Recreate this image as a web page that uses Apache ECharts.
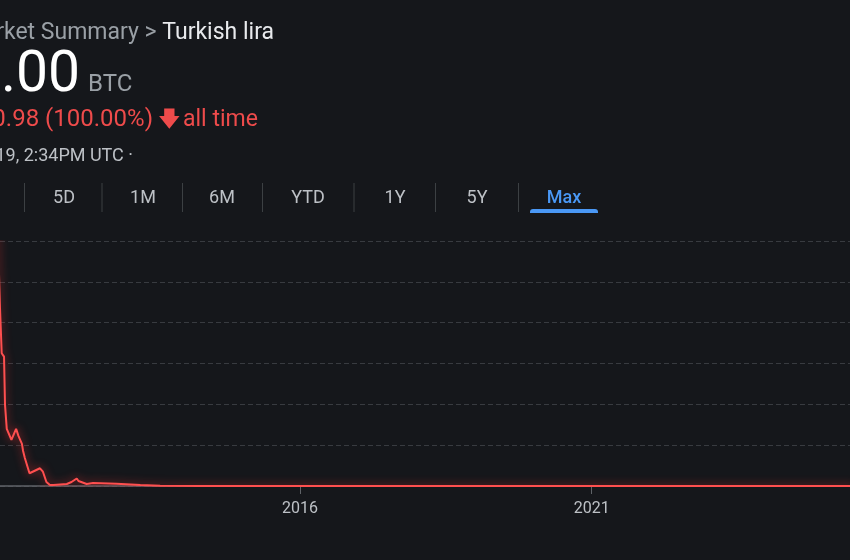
<!DOCTYPE html>
<html><head><meta charset="utf-8">
<script src="https://cdn.jsdelivr.net/npm/echarts@6/dist/echarts.min.js"></script>
<style>html,body{margin:0;padding:0;background:#15171b;}#c{width:850px;height:560px;}</style>
</head><body><div id="c"></div>
<script>
// Time (decimal year) and value (BTC per TRY)
const years = [2010.55, 2010.65, 2010.75, 2010.82, 2010.854, 2010.883, 2010.923, 2010.94, 2010.97, 2011.05, 2011.13, 2011.17, 2011.23, 2011.25, 2011.28, 2011.31, 2011.36, 2011.54, 2011.59, 2011.65, 2011.71, 2011.77, 2012.0, 2012.08, 2012.17, 2012.2, 2012.34, 2012.45, 2012.85, 2013.26, 2013.6, 2014.28, 2016.0, 2018.0, 2021.0, 2023.0, 2025.5];
const values = [9.98, 7.2, 4.6, 3.0, 2.178, 1.626, 1.585, 0.993, 0.699, 0.564, 0.699, 0.613, 0.515, 0.429, 0.343, 0.331, 0.156, 0.217, 0.175, 0.049, 0.012, 0.012, 0.025, 0.049, 0.092, 0.061, 0.025, 0.037, 0.028, 0.012, 0.004, 0.001, 0.0005, 0.0002, 0.0001, 0.00005, 0.00002];
const xTickYears = [2016, 2021];
const tabs = ['1D', '5D', '1M', '6M', 'YTD', '1Y', '5Y', 'Max'];
const crumbs = ['Market Summary', 'Turkish lira'];
const priceText = '0.00';
const unitText = 'BTC';
const changeText = '-0.98 (100.00%)';
const periodText = 'all time';
const dateText = '19, 2:34PM UTC ·';

const chart = echarts.init(document.getElementById('c'), null, {renderer: 'canvas'});
const tabCenters = [-12, 64, 143, 222, 308, 395, 477, 564];
const sepX = [24.5, 102, 182.5, 262.5, 354, 435.5, 518.5];
const graphics = [];
graphics.push({type: 'text', x: 274, y: 33, style: {
  text: '{g|' + crumbs[0] + ' > }{w|' + crumbs[1] + '}',
  rich: {g: {fill: '#9aa0a6', font: '23px Roboto'}, w: {fill: '#e8eaed', font: '23px Roboto'}},
  align: 'right', verticalAlign: 'middle'}});
graphics.push({type: 'text', x: 80, y: 77, style: {text: priceText, fill: '#ffffff', font: '57px Roboto', align: 'right', verticalAlign: 'middle'}});
graphics.push({type: 'text', x: 88, y: 85, style: {text: unitText, fill: '#9aa0a6', font: '24px Roboto', verticalAlign: 'middle'}});
graphics.push({type: 'text', x: 153, y: 120, style: {text: changeText, fill: '#ee4b4b', font: '24px Roboto', align: 'right', verticalAlign: 'middle'}});
graphics.push({type: 'text', x: 158, y: 120, style: {text: '\u{1F847}', fill: '#ee4b4b', font: '22px "DejaVu Sans"', verticalAlign: 'middle'}});
graphics.push({type: 'text', x: 183, y: 120, style: {text: periodText, fill: '#ee4b4b', font: '23px Roboto', verticalAlign: 'middle'}});
graphics.push({type: 'text', x: 133, y: 156, style: {text: dateText, fill: '#bdc1c6', font: '18px Roboto', align: 'right', verticalAlign: 'middle'}});
tabs.forEach((t, i) => {
  graphics.push({type: 'text', x: tabCenters[i], y: 198, style: {text: t, fill: t === 'Max' ? '#4a98f5' : '#bdc1c6', font: (t === 'Max' ? '500 ' : '') + '18px Roboto', align: 'center', verticalAlign: 'middle'}});
});
sepX.forEach(x => graphics.push({type: 'line', shape: {x1: x, y1: 183, x2: x, y2: 212}, style: {stroke: '#3c4043', lineWidth: 1}}));
graphics.push({type: 'rect', shape: {x: 530, y: 209, width: 68, height: 4, r: [3, 3, 0, 0]}, style: {fill: '#4a98f5'}});

chart.setOption({
  backgroundColor: '#15171b',
  animation: false,
  grid: {left: 0, right: 0, top: 241, bottom: 74},
  xAxis: {
    type: 'value', min: 2010.854, max: 2025.43,
    axisLine: {show: true, lineStyle: {color: '#5f6368', width: 1.5}},
    axisTick: {show: true, customValues: xTickYears, length: 8, lineStyle: {color: '#5f6368'}},
    axisLabel: {show: true, customValues: xTickYears, color: '#bdc1c6', fontSize: 16, fontFamily: 'Roboto', margin: 15, formatter: v => String(Math.round(v))},
    splitLine: {show: false}
  },
  yAxis: {
    type: 'value', min: 0, max: 3, interval: 0.5,
    axisLine: {show: false}, axisTick: {show: false}, axisLabel: {show: false},
    splitLine: {show: true, lineStyle: {color: '#383b40', type: [5, 3], width: 1}}
  },
  series: [{
    type: 'line', data: years.map((y, i) => [y, values[i]]), symbol: 'none', clip: true,
    lineStyle: {color: '#ff4f4f', width: 2, shadowColor: 'rgba(255,50,50,0.7)', shadowBlur: 8}
  }],
  graphic: graphics
});
</script></body></html>
